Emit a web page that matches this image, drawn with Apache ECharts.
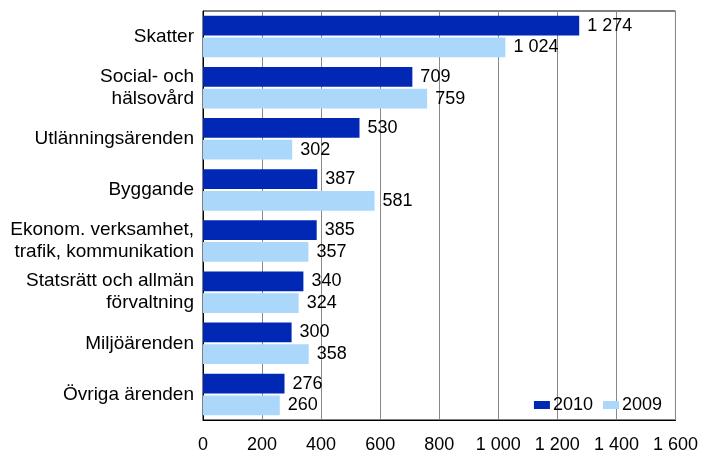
<!DOCTYPE html>
<html>
<head>
<meta charset="utf-8">
<script src="https://cdn.jsdelivr.net/npm/echarts@6/dist/echarts.min.js"></script>
<style>
    html, body { margin: 0; padding: 0; background: #fff; }
    #chart { width: 701px; height: 454px; }
</style>
</head>
<body>
<div id="chart"></div>
<script>
    var categories = ['Skatter', 'Social- och\nhälsovård', 'Utlänningsärenden', 'Byggande',
        'Ekonom. verksamhet,\ntrafik, kommunikation', 'Statsrätt och allmän\nförvaltning',
        'Miljöärenden', 'Övriga ärenden'];
    var values2010 = [1274, 709, 530, 387, 385, 340, 300, 276];
    var values2009 = [1024, 759, 302, 581, 357, 324, 358, 260];
    var xTicks = [0, 200, 400, 600, 800, 1000, 1200, 1400, 1600];

    // tusentalsavgränsare med mellanslag
    var fmt = function (v) {
        return String(v).replace(/\B(?=(\d{3})+(?!\d))/g, ' ');
    };

    var chart = echarts.init(document.getElementById('chart'));

    var labelStyle = {
        show: true,
        position: 'right',
        distance: 8,
        color: '#000',
        fontSize: 18,
        formatter: function (p) { return fmt(p.value); }
    };

    var option = {
        animation: false,
        backgroundColor: '#fff',
        textStyle: { fontFamily: 'Arial, "Liberation Sans", sans-serif' },
        grid: { left: 203, right: 25, top: 11, bottom: 29, containLabel: false,
            show: true, borderColor: '#000', borderWidth: 1 },
        legend: {
            right: 34,
            top: 391,
            itemWidth: 16,
            itemHeight: 8,
            itemGap: 10,
            icon: 'rect',
            textStyle: { fontSize: 18, color: '#000', padding: [0, 0, 0, -2] },
            data: ['2010', '2009']
        },
        xAxis: {
            type: 'value',
            min: xTicks[0],
            max: xTicks[xTicks.length - 1],
            interval: 200,
            axisLine: { show: true, lineStyle: { color: '#000' } },
            axisTick: { show: false },
            splitLine: { show: true, lineStyle: { color: '#888', width: 1 } },
            axisLabel: { color: '#000', fontSize: 18, margin: 16, formatter: fmt }
        },
        yAxis: {
            type: 'category',
            inverse: true,
            data: categories,
            axisLine: { show: true, lineStyle: { color: '#000' } },
            axisTick: { show: false },
            axisLabel: { color: '#000', fontSize: 19, margin: 9, lineHeight: 22, align: 'right' }
        },
        series: [{
            name: '2010',
            type: 'bar',
            data: values2010,
            itemStyle: { color: '#0028b4' },
            barGap: '10%',
            barCategoryGap: '19%',
            label: labelStyle
        }, {
            name: '2009',
            type: 'bar',
            data: values2009,
            itemStyle: { color: '#abd7fb' },
            label: labelStyle
        }]
    };
    chart.setOption(option);
</script>
</body>
</html>
